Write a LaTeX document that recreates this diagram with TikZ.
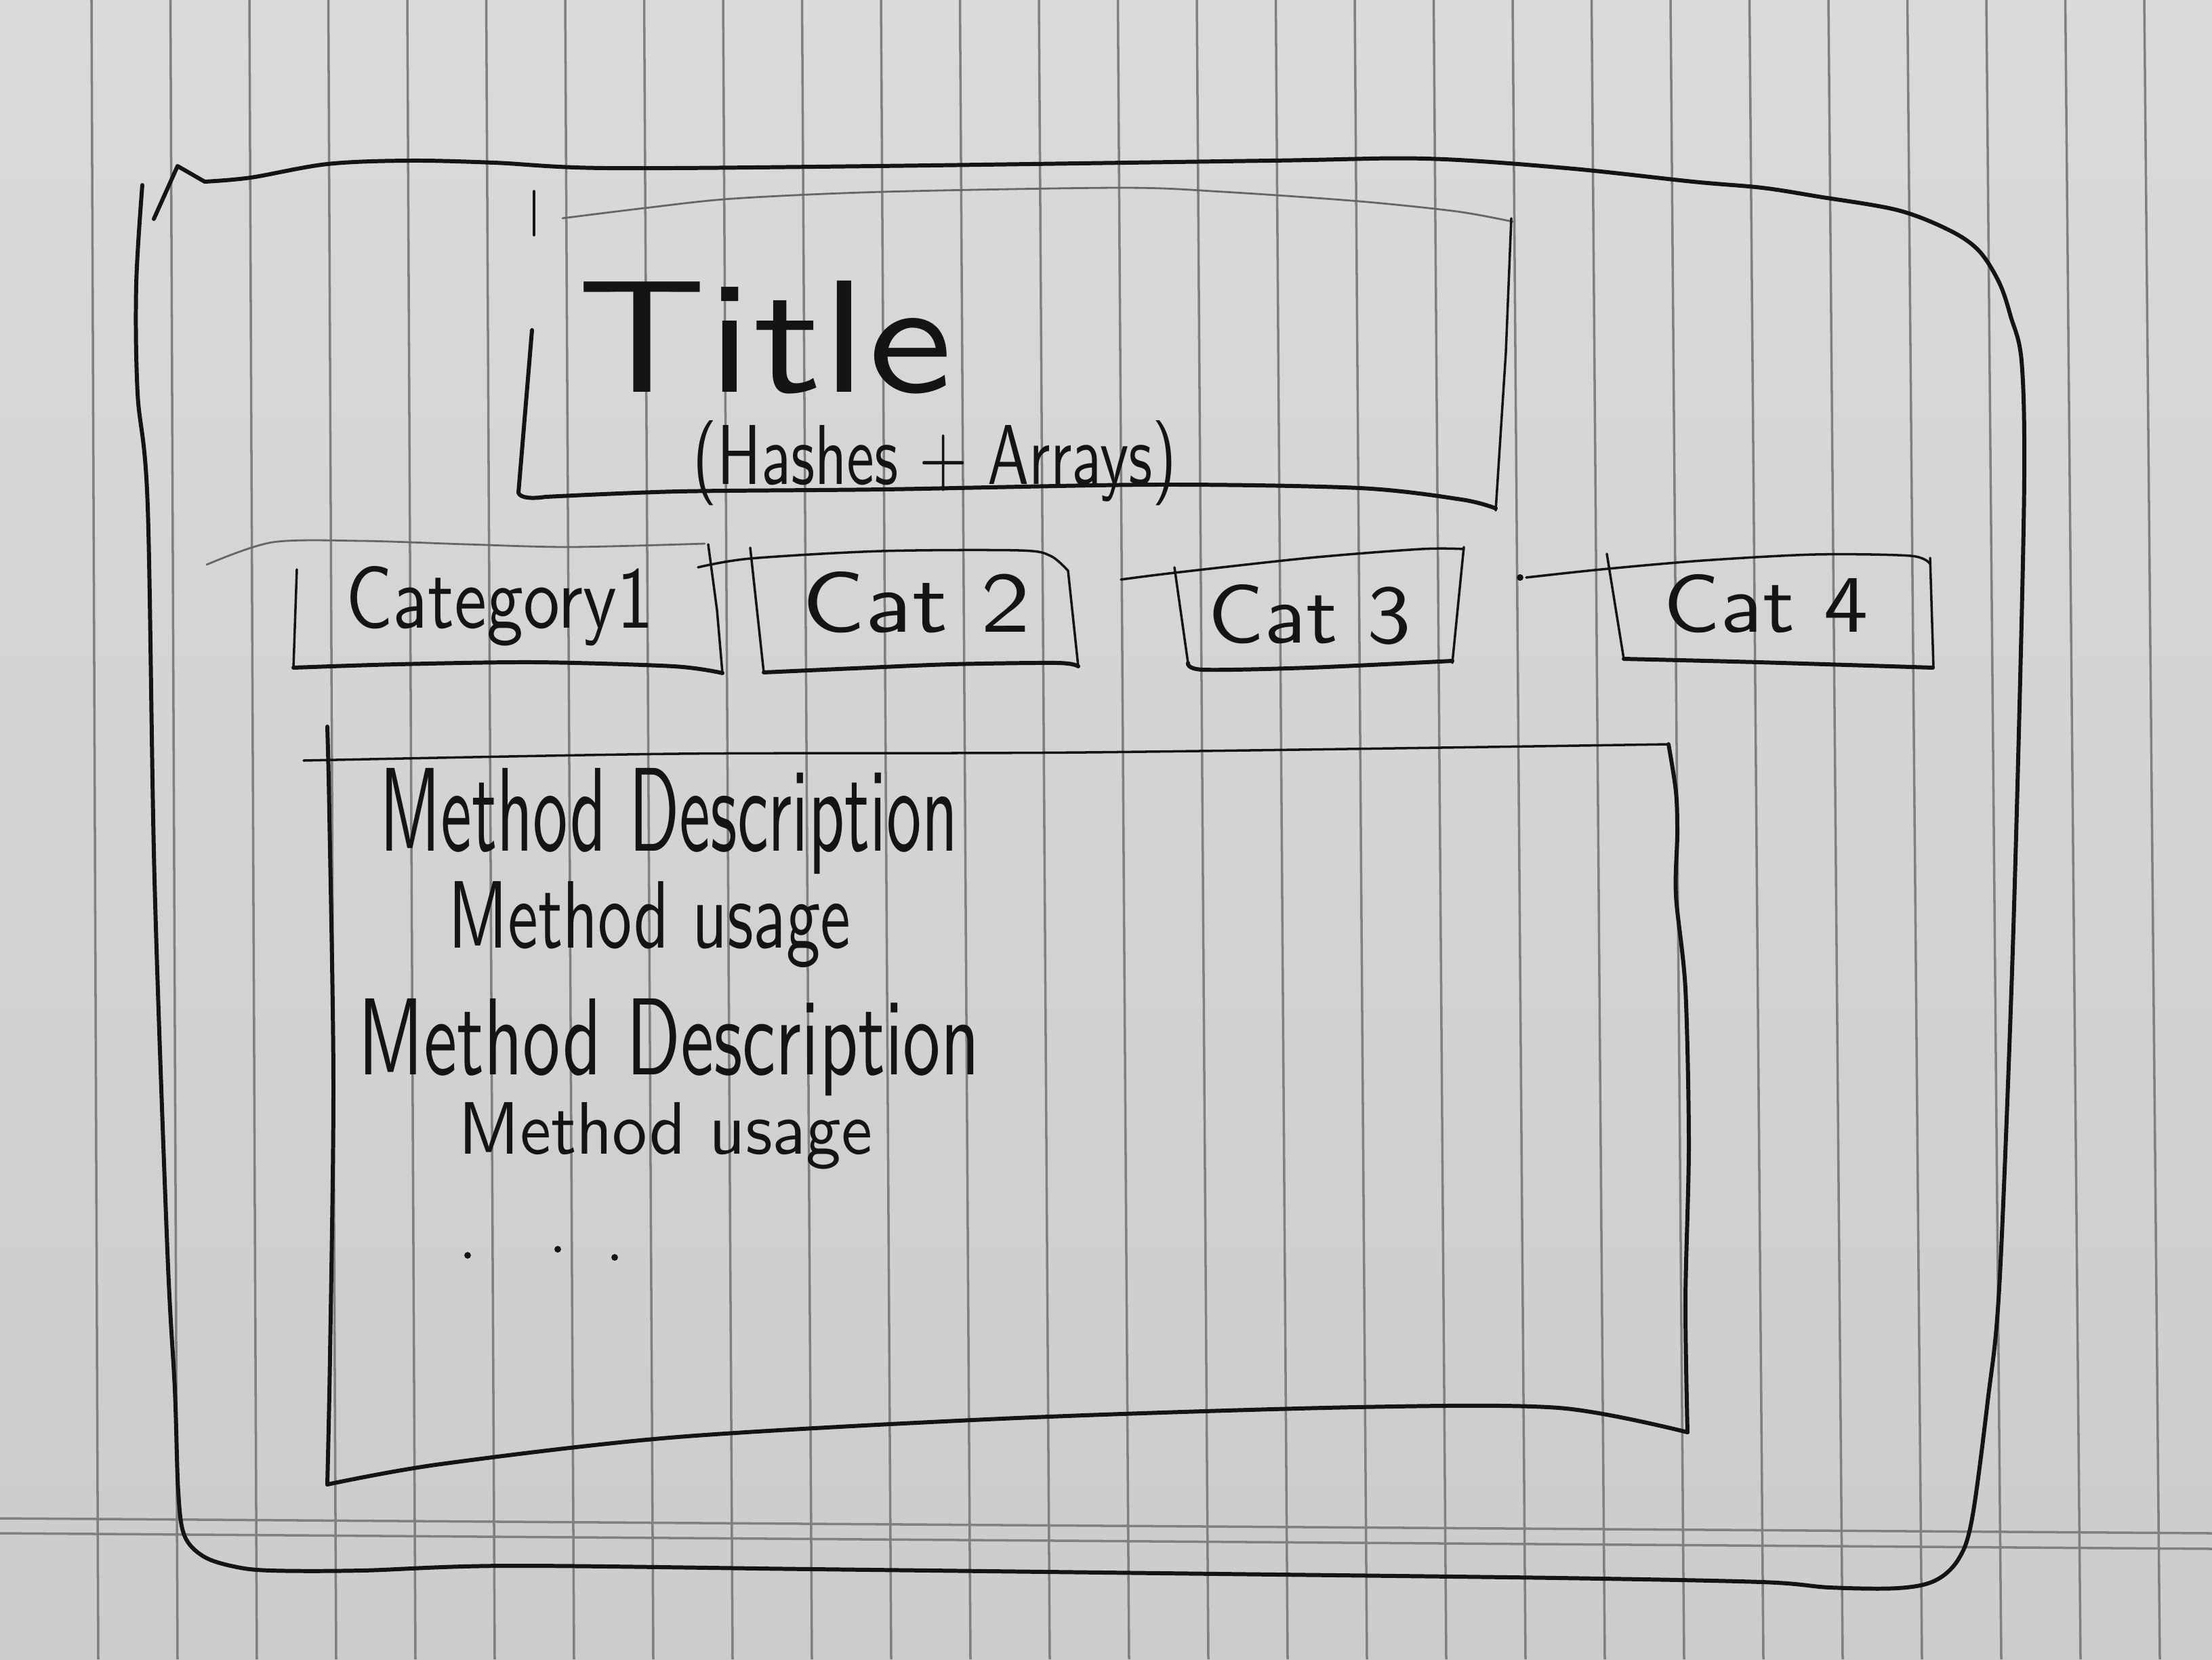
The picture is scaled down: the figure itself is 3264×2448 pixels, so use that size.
\documentclass[tikz,border=0pt]{standalone}
\usepackage{graphicx}
\definecolor{paper}{gray}{0.855}
\definecolor{paperdark}{gray}{0.80}
\definecolor{rulecol}{gray}{0.50}
\definecolor{ink}{gray}{0.08}
\newcommand{\hand}[3]{\resizebox{#1cm}{#2cm}{\sffamily #3}}
\begin{document}
\begin{tikzpicture}[x=0.01cm, y=-0.01cm,
  ruling/.style={line width=1.0pt, rulecol},
  inkthick/.style={line width=1.7pt, ink, line cap=round, line join=round},
  inkthin/.style={line width=1.0pt, ink, line cap=round, line join=round},
  pencil/.style={line width=0.8pt, black!60, line cap=round},
  label/.style={inner sep=0pt, anchor=base west, text=ink}]

% sheet of ruled paper
\useasboundingbox (0,0) rectangle (3264,2448);
\shade[top color=paper, bottom color=paperdark] (0,0) rectangle (3264,2448);
\foreach \k in {0,...,26}{
  \draw[ruling] ({135+116.5*\k},0) -- ({145+117*\k},2448);
}
\draw[ruling] (0,2240) -- (3264,2262);
\draw[ruling] (0,2262) -- (3264,2285);

% outer page frame
\draw[inkthick] plot[smooth, tension=0.55] coordinates {
  (210,273) (201,420) (203,580) (218,748) (228,1297) (247,1845) (258,2050)
  (263,2200) (272,2265) (300,2296) (345,2311) (400,2317) (533,2317) (750,2310)
  (1200,2315) (1800,2322) (2300,2328) (2600,2334) (2700,2342) (2800,2343)
  (2855,2332) (2890,2300) (2910,2240) (2933,2067) (2950,1900) (2968,1460)
  (2980,1040) (2987,700) (2983,533) (2967,467) (2950,417) (2920,370)
  (2877,340) (2800,310) (2683,290) (2600,277) (2498,268) (2311,248)
  (2103,234) (1874,237) (1291,245) (895,248) (729,240) (604,237) (483,242)
  (370,262) (302,268)}
  -- (262,245) -- (227,323);

% title box
\draw[inkthin] (788,282) -- (788,347);
\draw[pencil] plot[smooth] coordinates {
  (830,322) (951,307) (1082,293) (1303,283) (1655,277) (1805,283)
  (2006,297) (2150,312) (2232,327)};
\draw[inkthick] (785,487) -- (765,727)
  .. controls (768,735) and (785,736) .. (805,733)
  plot[smooth] coordinates {(805,733) (1001,725) (1303,722) (1705,715)
  (2006,720) (2157,737) (2207,750)};
\draw[inkthin] (2230,322) -- (2222,520) -- (2207,753);

\node[label] (title) at (851,578) {\hand{5.53}{1.64}{Title}};
\node[label] (subtitle) at (1022,714) {\hand{7.13}{0.94}{(Hashes + Arrays)}};

% category tabs
\draw[pencil] plot[smooth] coordinates {(305,833) (402,800) (535,798) (688,803) (841,807) (1040,802)};
\draw[inkthin] (438,840) -- (433,985);
\draw[inkthick] plot[smooth] coordinates {(433,985) (586,980) (790,977) (994,983) (1066,993)};
\draw[inkthin] (1045,803) -- (1058,900) -- (1066,993);
\node[label] (cat1) at (510,926) {\hand{4.53}{0.91}{Category1}};

\draw[inkthin] plot[smooth] coordinates {(1030,837) (1107,824) (1300,813) (1504,812) (1550,820) (1576,842)};
\draw[inkthin] (1107,808) -- (1127,992);
\draw[inkthick] plot[smooth] coordinates {(1127,992) (1260,986) (1403,980) (1560,978) (1591,983)};
\draw[inkthin] (1576,842) -- (1591,983);
\node[label] (cat2) at (1183,932) {\hand{3.36}{0.89}{Cat 2}};

\draw[inkthin] plot[smooth] coordinates {(1654,855) (1733,845) (1932,823) (2097,810) (2160,810)};
\draw[inkthin] (1733,837) -- (1753,978);
\draw[inkthick] plot[smooth] coordinates {(1753,978) (1775,988) (1932,985) (2143,975)};
\draw[inkthin] (2160,807) -- (2143,978);
\node[label] (cat3) at (1782,948) {\hand{2.99}{0.86}{Cat 3}};

\fill[ink] (2243,852) circle[radius=1.4pt];
\draw[inkthin] plot[smooth] coordinates {(2252,852) (2363,840) (2512,827) (2678,818) (2819,820) (2848,832)};
\draw[inkthin] (2371,817) -- (2396,972);
\draw[inkthick] plot[smooth] coordinates {(2396,972) (2595,977) (2852,985)};
\draw[inkthin] (2848,823) -- (2853,985);
\node[label] (cat4) at (2454,932) {\hand{3.02}{0.85}{Cat 4}};

% content panel
\draw[inkthin] plot[smooth] coordinates {(448,1122) (1000,1112) (1600,1110) (2462,1098)};
\draw[inkthick] plot[smooth] coordinates {(483,1072) (486,1200) (492,1600) (487,2000) (483,2190)};
\draw[inkthick] plot[smooth] coordinates {(483,2190) (650,2160) (1000,2120) (1500,2092) (2000,2076) (2300,2077) (2490,2113)};
\draw[inkthick] plot[smooth] coordinates {(2462,1098) (2473,1168) (2475,1230) (2473,1321)
  (2487,1459) (2492,1689) (2487,1918) (2490,2113)};

\node[label] (desc1)  at (560,1255) {\hand{8.52}{1.22}{Method Description}};
\node[label] (usage1) at (661,1398) {\hand{5.93}{0.98}{Method usage}};
\node[label] (desc2)  at (528,1585) {\hand{9.16}{1.12}{Method Description}};
\node[label] (usage2) at (676,1702) {\hand{6.10}{0.76}{Method usage}};

\fill[ink] (690,1852) circle[radius=1.4pt];
\fill[ink] (823,1843) circle[radius=1.4pt];
\fill[ink] (907,1855) circle[radius=1.4pt];
\end{tikzpicture}
\end{document}
